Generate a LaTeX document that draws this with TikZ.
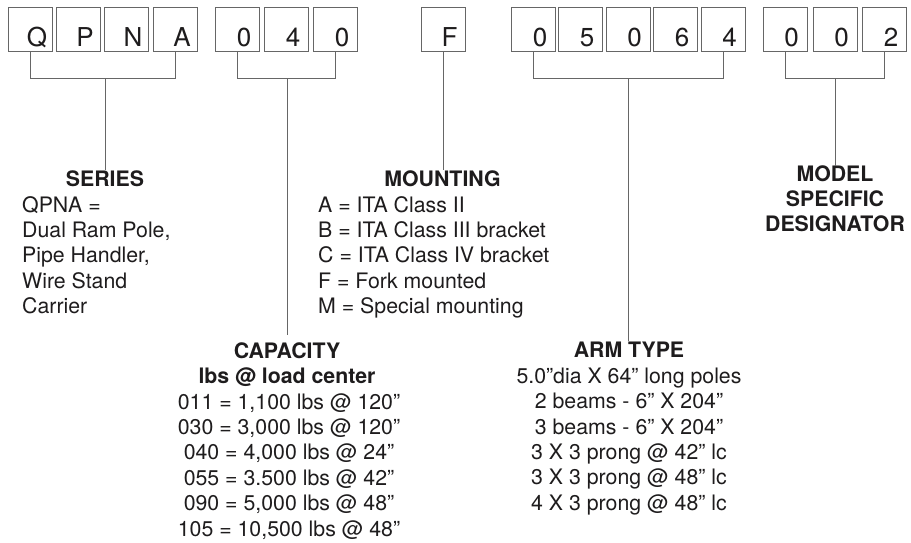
\documentclass[tikz,border=0pt]{standalone}
\usepackage{fontspec}
\setmainfont{TeX Gyre Heros}
\definecolor{ink}{HTML}{1E1C1D}
\definecolor{rulec}{HTML}{666666}
\begin{document}
\begin{tikzpicture}[x=1pt,y=-1pt,
  box/.style={draw=rulec, line width=0.8pt, minimum width=44pt, minimum height=44pt, inner sep=0pt},
  ltr/.style={font=\fontsize{26}{30}\selectfont, text=ink, inner sep=0pt, anchor=base},
  conn/.style={draw=rulec, line width=0.8pt},
  head/.style={font=\fontsize{21.3}{25}\selectfont\bfseries, text=ink, inner sep=0pt, anchor=base},
  bodyl/.style={font=\fontsize{21.3}{25}\selectfont, text=ink, inner sep=0pt, anchor=base west},
  bodyc/.style={font=\fontsize{21.3}{25}\selectfont, text=ink, inner sep=0pt, anchor=base}]
\useasboundingbox (0,0) rectangle (911,542);

% code boxes
\foreach \n/\x/\t in {b1/30.5/Q, b2/78.5/P, b3/126.5/N, b4/175.5/A,
                      b5/237.5/0, b6/286.5/4, b7/335.5/0,
                      b8/443/F,
                      b9/533.5/0, b10/580.5/5, b11/628/0, b12/675.5/6, b13/723/4,
                      b14/785/0, b15/835/0, b16/884.5/2} {
  \node[box] (\n) at (\x,29) {};
  \node[ltr] (\n t) at ([xshift=6.5pt,yshift=5pt]\n.south) {\t};
}

% headings
\node[head] (series) at (105,186) {SERIES};
\node[head] (mount) at (442.5,186) {MOUNTING};
\node[head] (model1) at (835,181.7) {MODEL};
\node[head] (model2) at (835,206.7) {SPECIFIC};
\node[head] (model3) at (835,231.7) {DESIGNATOR};
\node[head] (capacity) at (287,358) {CAPACITY};
\node[head] (capsub) at (287,383.3) {lbs @ load center};
\node[head] (arm) at (629,357) {ARM TYPE};

% series text
\foreach \t [count=\i] in {QPNA =, {Dual Ram Pole,}, {Pipe Handler,}, Wire Stand, Carrier}
  \node[bodyl] (ser\i) at (22,{212+(\i-1)*25.4}) {\t};

% mounting text
\foreach \t [count=\i] in {A = ITA Class II, B = ITA Class III bracket, C = ITA Class IV bracket, F = Fork mounted, M = Special mounting}
  \node[bodyl] (mnt\i) at (318,{212+(\i-1)*25.4}) {\t};

% capacity text
\foreach \t [count=\i] in {{011 = 1,100 lbs @ 120”}, {030 = 3,000 lbs @ 120”}, {040 = 4,000 lbs @ 24”}, {055 = 3.500 lbs @ 42”}, {090 = 5,000 lbs @ 48”}, {105 = 10,500 lbs @ 48”}}
  \node[bodyc] (cap\i) at (289,{409+(\i-1)*25.4}) {\t};

% arm type text
\foreach \t [count=\i] in {5.0”dia X 64” long poles, 2 beams - 6” X 204”, 3 beams - 6” X 204”, 3 X 3 prong @ 42” lc, 3 X 3 prong @ 48” lc, 4 X 3 prong @ 48” lc}
  \node[bodyc] (arm\i) at (629,{383.3+(\i-1)*25.4}) {\t};

% bracket junctions
\coordinate (j1) at (105,78);
\coordinate (j2) at (287,78);
\coordinate (j3) at (628,78);
\coordinate (j4) at (835,78);
\coordinate (capend) at (287,335);

% brackets
\draw[conn] (b1.south) -- (b1.south |- j1) -- (b4.south |- j1) -- (b4.south);
\draw[conn] (b5.south) -- (b5.south |- j2) -- (b7.south |- j2) -- (b7.south);
\draw[conn] (b9.south) -- (b9.south |- j3) -- (b13.south |- j3) -- (b13.south);
\draw[conn] (b14.south) -- (b14.south |- j4) -- (b16.south |- j4) -- (b16.south);

% stems
\draw[conn] (j1) -- (j1 |- series.north);
\draw[conn] (j2) -- (capend);
\draw[conn] (b8.south) -- (b8.south |- mount.north);
\draw[conn] (j3) -- (j3 |- arm.north);
\draw[conn] (j4) -- (j4 |- model1.north);
\end{tikzpicture}
\end{document}
